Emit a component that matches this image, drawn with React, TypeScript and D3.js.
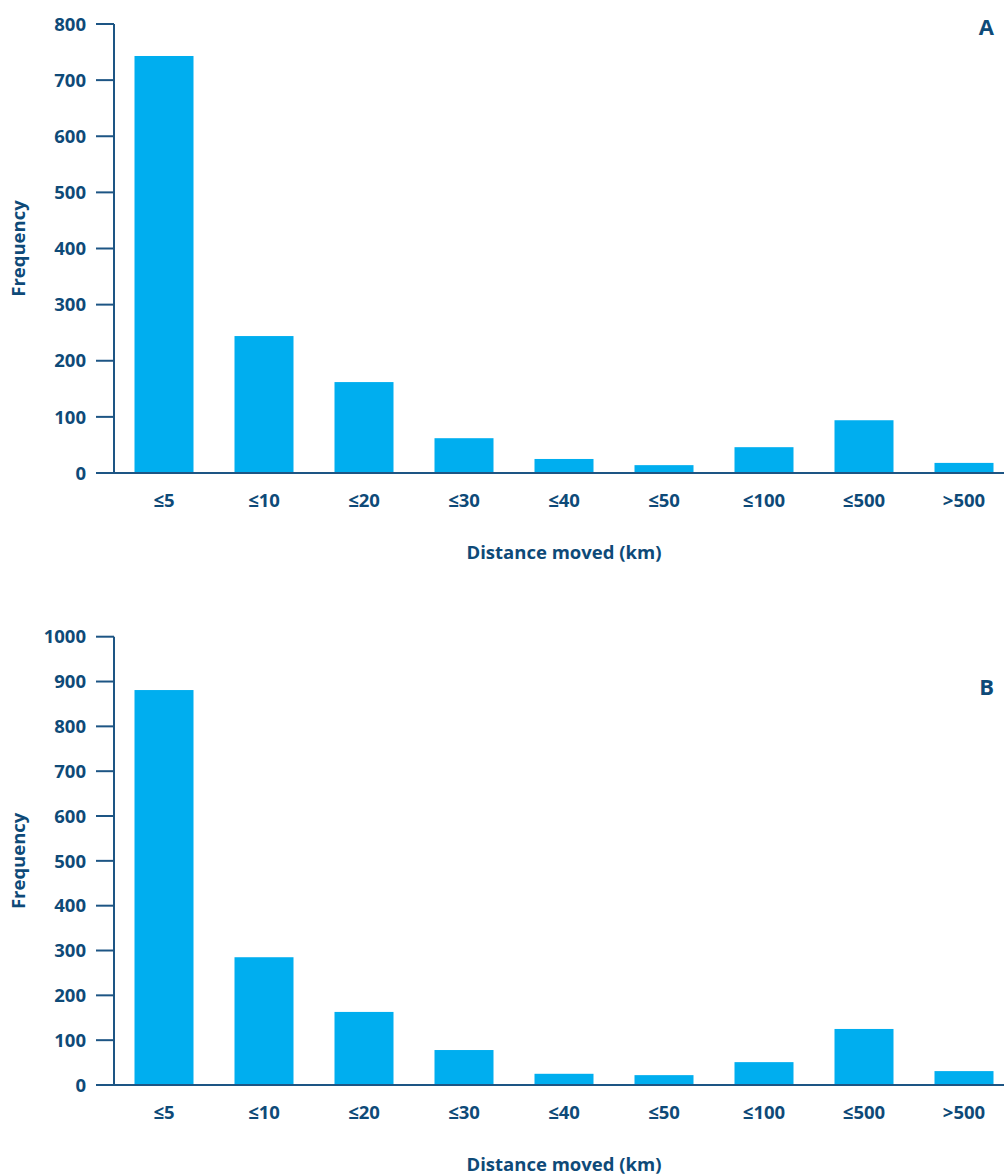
import React from "react";
import * as d3 from "d3";

const categories = ["≤5", "≤10", "≤20", "≤30", "≤40", "≤50", "≤100", "≤500", ">500"];
const valuesA = [743, 244, 162, 62, 25, 14, 46, 94, 18];
const valuesB = [881, 285, 163, 78, 25, 22, 51, 125, 31];
const ticksA = [0, 100, 200, 300, 400, 500, 600, 700, 800];
const ticksB = [0, 100, 200, 300, 400, 500, 600, 700, 800, 900, 1000];

const TEXT = "#0e4a78";
const AXIS = "#1d5584";
const BAR = "#00aeef";
const FONT = "'Open Sans', 'Noto Sans', sans-serif";
const FS = 18.5;

type PanelProps = {
  values: number[];
  ticks: number[];
  yMax: number;
  yTop: number;
  yBottom: number;
  letter: string;
  letterY: number;
  xTitleY: number;
};

function Panel({ values, ticks, yMax, yTop, yBottom, letter, letterY, xTitleY }: PanelProps) {
  const axisX = 114;
  const x = d3
    .scaleBand<string>()
    .domain(categories)
    .range([axisX, 1014])
    .paddingInner(0.41)
    .paddingOuter(0.205);
  const y = d3.scaleLinear().domain([0, yMax]).range([yBottom, yTop]);
  return (
    <g>
      {categories.map((c, i) => (
        <rect
          key={c}
          x={x(c)}
          y={y(values[i])}
          width={x.bandwidth()}
          height={y(0) - y(values[i])}
          fill={BAR}
        />
      ))}
      <line x1={axisX} x2={axisX} y1={y(yMax)} y2={y(0)} stroke={AXIS} strokeWidth={2} />
      <line x1={96} x2={1004} y1={y(0)} y2={y(0)} stroke={AXIS} strokeWidth={2} />
      {ticks.map((t) => (
        <g key={t}>
          <line x1={96} x2={axisX} y1={y(t)} y2={y(t)} stroke={AXIS} strokeWidth={2} />
          <text
            x={86}
            y={y(t)}
            dy="0.36em"
            textAnchor="end"
            fontFamily={FONT}
            fontWeight={700}
            fontSize={FS}
            fill={TEXT}
          >
            {t}
          </text>
        </g>
      ))}
      {categories.map((c) => (
        <text
          key={c}
          x={(x(c) as number) + x.bandwidth() / 2}
          y={y(0) + 27}
          dy="0.36em"
          textAnchor="middle"
          fontFamily={FONT}
          fontWeight={700}
          fontSize={FS}
          fill={TEXT}
        >
          {c}
        </text>
      ))}
      <text
        x={564}
        y={xTitleY}
        dy="0.36em"
        textAnchor="middle"
        fontFamily={FONT}
        fontWeight={700}
        fontSize={FS}
        fill={TEXT}
      >
        Distance moved (km)
      </text>
      <text
        transform={`translate(18,${(y(yMax) + y(0)) / 2}) rotate(-90)`}
        textAnchor="middle"
        dy="0.36em"
        fontFamily={FONT}
        fontWeight={700}
        fontSize={FS}
        fill={TEXT}
      >
        Frequency
      </text>
      <text
        x={994}
        y={letterY}
        dy="0.36em"
        textAnchor="end"
        fontFamily={FONT}
        fontWeight={700}
        fontSize={22}
        fill={TEXT}
      >
        {letter}
      </text>
    </g>
  );
}

export default function App() {
  return (
    <svg
      width={1004}
      height={1175}
      style={{ position: "absolute", left: 0, top: 0, background: "#fff" }}
    >
      <Panel
        values={valuesA}
        ticks={ticksA}
        yMax={800}
        yTop={24}
        yBottom={473}
        letter="A"
        letterY={27}
        xTitleY={552}
      />
      <Panel
        values={valuesB}
        ticks={ticksB}
        yMax={1000}
        yTop={636.7}
        yBottom={1085}
        letter="B"
        letterY={687}
        xTitleY={1164}
      />
    </svg>
  );
}
